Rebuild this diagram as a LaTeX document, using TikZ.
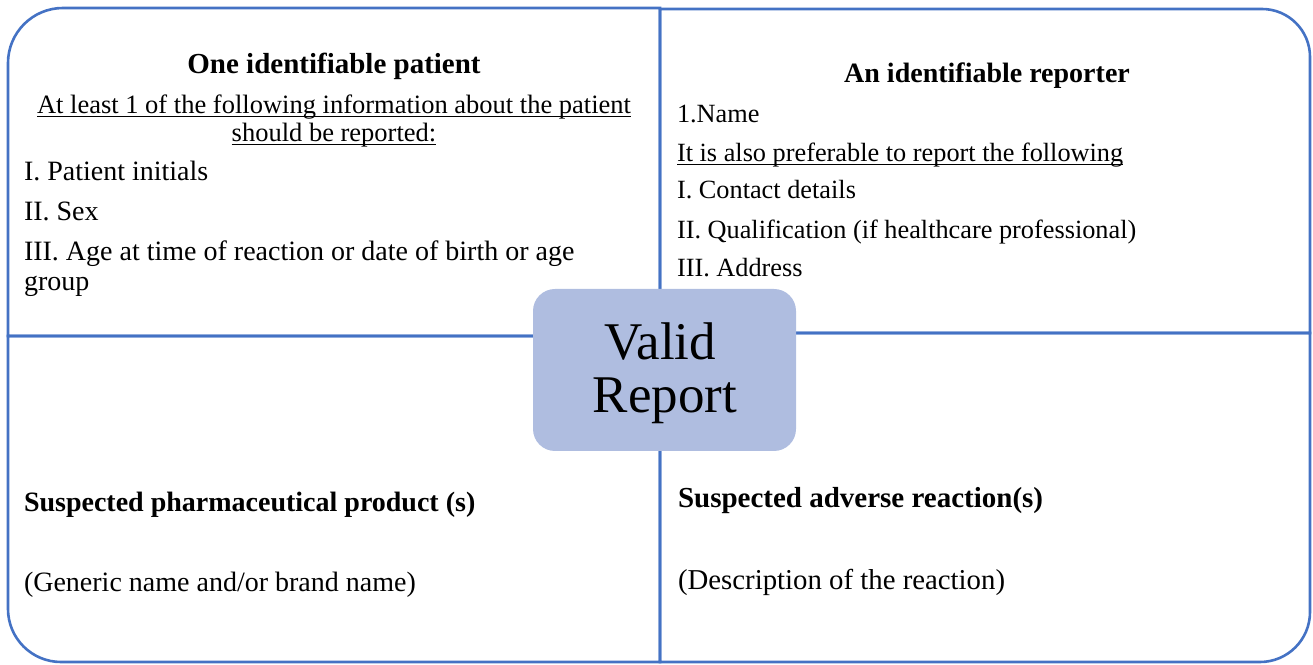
\documentclass[tikz,border=0pt]{standalone}
\usepackage{fontspec}
\setmainfont{Liberation Serif}
\newcommand\myul[1]{\setbox0\hbox{#1}\rlap{\rule[-3.5pt]{\wd0}{1.1pt}}\box0}
\definecolor{lineblue}{HTML}{4472C4}
\definecolor{boxfill}{RGB}{175,189,224}
\begin{document}
\begin{tikzpicture}[x=1pt,y=1pt,
  quad/.style={draw=lineblue,line width=2.6pt,line join=miter},
  txt/.style={inner sep=0pt,outer sep=0pt,anchor=base west,text=black},
  ctxt/.style={inner sep=0pt,outer sep=0pt,anchor=base,text=black},
  centerbox/.style={fill=boxfill,draw=none,rounded corners=22pt,minimum width=263pt,minimum height=162pt,inner sep=0pt}]
\useasboundingbox (0,0) rectangle (1313,664);
% quadrants
\draw[quad] (660,328) -- (8,328) -- (8,601) arc[start angle=180,end angle=90,radius=55] -- (660,656) -- cycle;
\draw[quad] (660,331) -- (660,655) -- (1262,655) arc[start angle=90,end angle=0,radius=48] -- (1310,331) -- cycle;
\draw[quad] (660,328) -- (8,328) -- (8,55) arc[start angle=180,end angle=270,radius=53] -- (660,2) -- cycle;
\draw[quad] (660,331) -- (1310,331) -- (1310,52) arc[start angle=0,end angle=-90,radius=50] -- (660,2) -- cycle;
% centre
\node[centerbox] (vr) at (664.5,294) {};
\node[ctxt,font=\fontsize{53}{53}\selectfont] (valid) at (660,304) {Valid};
\node[ctxt,font=\fontsize{53}{53}\selectfont] (report) at (665,251) {Report};
% top left
\node[ctxt,font=\fontsize{29}{29}\selectfont\bfseries] (tlt) at (334,590) {One identifiable patient};
\node[ctxt,font=\fontsize{26.5}{26.5}\selectfont] (tlu1) at (334,550) {\myul{At least 1 of the following information about the patient}};
\node[ctxt,font=\fontsize{26.5}{26.5}\selectfont] (tlu2) at (334,522) {\myul{should be reported:}};
\node[txt,font=\fontsize{28}{28}\selectfont] (tl1) at (24,483) {I. Patient initials};
\node[txt,font=\fontsize{28}{28}\selectfont] (tl2) at (24,443) {II. Sex};
\node[txt,font=\fontsize{28}{28}\selectfont] (tl3) at (24,403) {III. Age at time of reaction or date of birth or age};
\node[txt,font=\fontsize{28}{28}\selectfont] (tl4) at (24,373) {group};
% top right
\node[ctxt,font=\fontsize{28}{28}\selectfont\bfseries] (trt) at (987,581) {An identifiable reporter};
\node[txt,font=\fontsize{26.3}{26.3}\selectfont] (tr1) at (677,541) {1.Name};
\node[txt,font=\fontsize{26.3}{26.3}\selectfont] (tr2) at (677,502) {\myul{It is also preferable to report the following}};
\node[txt,font=\fontsize{26.3}{26.3}\selectfont] (tr3) at (677,465) {I. Contact details};
\node[txt,font=\fontsize{26.3}{26.3}\selectfont] (tr4) at (677,425) {II. Qualification (if healthcare professional)};
\node[txt,font=\fontsize{26.3}{26.3}\selectfont] (tr5) at (677,387) {III. Address};
% bottom left
\node[txt,font=\fontsize{28}{28}\selectfont\bfseries] (blt) at (24,153) {Suspected pharmaceutical product (s)};
\node[txt,font=\fontsize{28}{28}\selectfont] (bl1) at (24,73) {(Generic name and/or brand name)};
% bottom right
\node[txt,font=\fontsize{29}{29}\selectfont\bfseries] (brt) at (678,157) {Suspected adverse reaction(s)};
\node[txt,font=\fontsize{28.8}{28.8}\selectfont] (br1) at (678,75) {(Description of the reaction)};
\end{tikzpicture}
\end{document}
